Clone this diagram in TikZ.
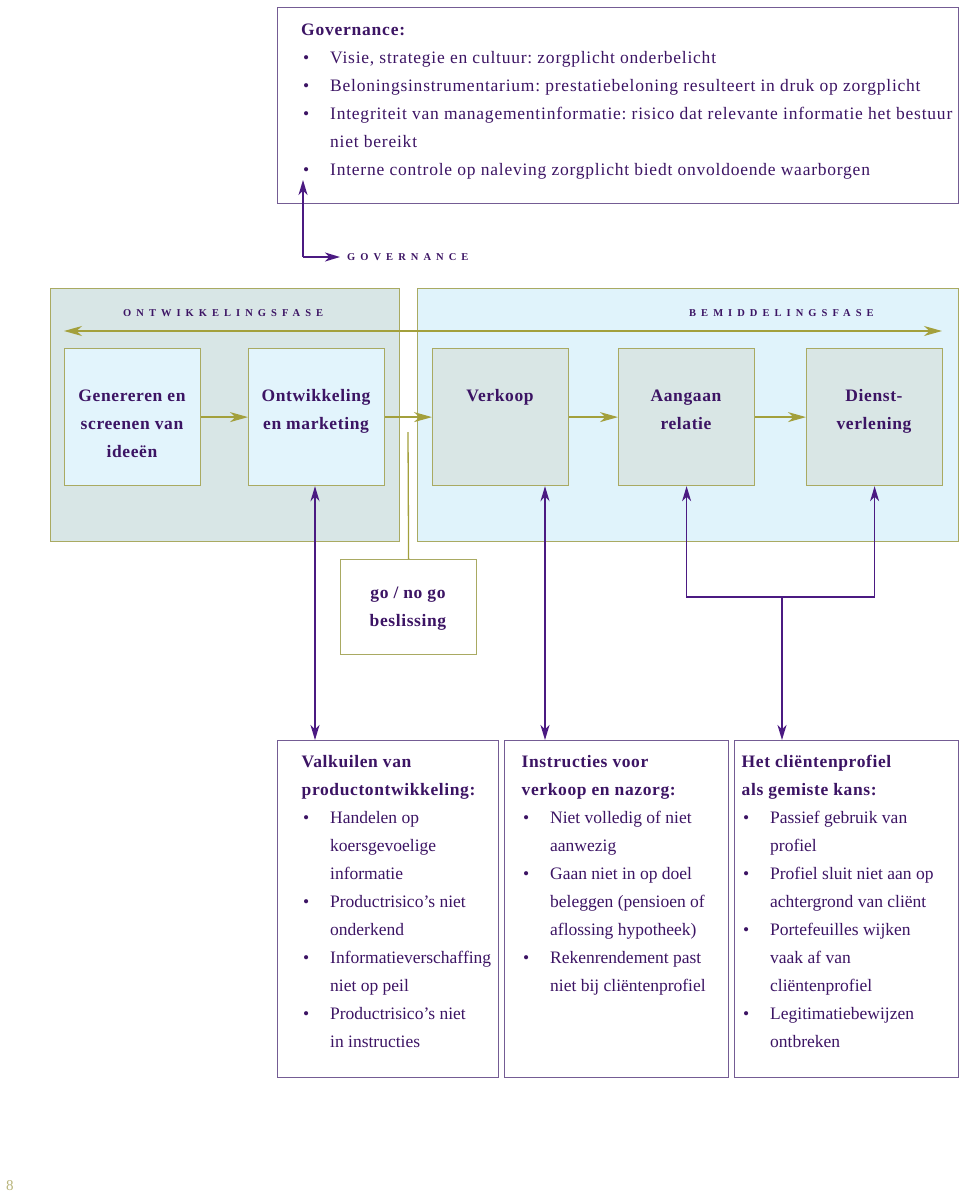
\documentclass[tikz,border=0pt]{standalone}
\usepackage{fontspec}
\setmainfont{Liberation Serif}
\newfontfamily\spacedfont[LetterSpace=48]{Liberation Serif}
\newfontfamily\trackfont[LetterSpace=3.5]{Liberation Serif}
\newfontfamily\govfont[LetterSpace=4.4]{Liberation Serif}
\frenchspacing
\usetikzlibrary{arrows.meta}
\definecolor{txt}{HTML}{3C1464}
\definecolor{parr}{HTML}{4B1A82}
\definecolor{pbord}{HTML}{745C94}
\definecolor{oarr}{HTML}{A3A03C}
\definecolor{obord}{HTML}{A9AA62}
\definecolor{panelL}{HTML}{D8E6E6}
\definecolor{panelR}{HTML}{E0F3FB}
\definecolor{boxB}{HTML}{E2F4FC}
\definecolor{boxG}{HTML}{D9E6E5}
\definecolor{pagenum}{HTML}{B8B47A}
\newcommand\bl{\makebox[27pt][l]{\textbullet}}
\newcommand\ct{\hspace*{27pt}}
\newcommand\ttl[1]{{\trackfont\bfseries #1}}
\tikzset{
  panel/.style={draw=obord, line width=1.2pt, anchor=north west, inner sep=0pt},
  stage/.style={draw=obord, line width=1.2pt, anchor=north west, minimum width=136pt, minimum height=137pt, inner sep=0pt},
  listbox/.style={draw=pbord, line width=1.3pt, anchor=north west, inner sep=0pt},
  body/.style={text=txt, inner sep=0pt, anchor=base west, font=\fontsize{17.5}{28}\selectfont},
  stagetext/.style={text=txt, inner sep=0pt, anchor=base, font=\trackfont\bfseries\fontsize{17.5}{28}\selectfont},
  phase/.style={text=txt, inner sep=0pt, anchor=base west, font=\spacedfont\bfseries\fontsize{10.5}{12}\selectfont},
  oline/.style={draw=oarr, line width=1.3pt},
  otip/.style={-{Stealth[length=18pt,width=10pt,inset=5.5pt]}},
  otips/.style={{Stealth[length=18pt,width=10pt,inset=5.5pt]}-{Stealth[length=18pt,width=10pt,inset=5.5pt]}},
  pline/.style={draw=parr, line width=1.4pt},
  ptip/.style={-{Stealth[length=15pt,width=9pt,inset=4.5pt]}},
  ptips/.style={{Stealth[length=15pt,width=9pt,inset=4.5pt]}-{Stealth[length=15pt,width=9pt,inset=4.5pt]}},
}
\begin{document}
\begin{tikzpicture}[x=1pt,y=-1pt]
\useasboundingbox (0,0) rectangle (960,1192);

% governance box
\node[listbox, minimum width=681pt, minimum height=196pt] (govbox) at (277,7) {};
\node[body, font=\govfont\fontsize{17.5}{28}\selectfont] (govtext) at (303,35) {\begin{tabular}[t]{@{}l@{}}
\hspace*{-2pt}\textbf{Governance:}\\
\bl Visie, strategie en cultuur: zorgplicht onderbelicht\\
\bl Beloningsinstrumentarium: prestatiebeloning resulteert in druk op zorgplicht\\
\bl Integriteit van managementinformatie: risico dat relevante informatie het bestuur\\
\ct niet bereikt\\
\bl Interne controle op naleving zorgplicht biedt onvoldoende waarborgen
\end{tabular}};

% governance label and arrow
\node[phase] (govlabel) at (347,260) {GOVERNANCE};
\coordinate (gtip) at (303,180);
\coordinate (gcorner) at (303,257);
\draw[pline, ptip] (gcorner) -- (gtip);
\draw[pline, ptip] (gcorner) -- ([xshift=-7pt]gcorner -| govlabel.west);

% phase panels
\node[panel, fill=panelL, minimum width=349pt, minimum height=253pt] (pL) at (50,288) {};
\node[panel, fill=panelR, minimum width=541pt, minimum height=253pt] (pR) at (417,288) {};
\node[phase] (ontw) at (123,316) {ONTWIKKELINGSFASE};
\node[phase] (bemid) at (689,316) {BEMIDDELINGSFASE};
\coordinate (dl) at (64,331);
\coordinate (dr) at (942,331);
\draw[oline, otips] (dl) -- (dr);

% stages
\node[stage, fill=boxB] (b1) at (64,348) {};
\node[stage, fill=boxB] (b2) at (248,348) {};
\node[stage, fill=boxG] (b3) at (432,348) {};
\node[stage, fill=boxG] (b4) at (618,348) {};
\node[stage, fill=boxG] (b5) at (806,348) {};
\node[stagetext] (t1) at (132,401) {\begin{tabular}[t]{@{}c@{}}Genereren en\\screenen van\\ideeën\end{tabular}};
\node[stagetext] (t2) at (316,401) {\begin{tabular}[t]{@{}c@{}}Ontwikkeling\\en marketing\end{tabular}};
\node[stagetext] (t3) at (500,401) {\begin{tabular}[t]{@{}c@{}}Verkoop\end{tabular}};
\node[stagetext] (t4) at (686,401) {\begin{tabular}[t]{@{}c@{}}Aangaan\\relatie\end{tabular}};
\node[stagetext] (t5) at (874,401) {\begin{tabular}[t]{@{}c@{}}Dienst-\\verlening\end{tabular}};
\draw[oline, otip] (b1.east) -- (b2.west);
\draw[oline, otip] (b2.east) -- (b3.west);
\draw[oline, otip] (b3.east) -- (b4.west);
\draw[oline, otip] (b4.east) -- (b5.west);

% go / no go
\node[stage, fill=white, minimum height=95pt] (go) at (340,559) {};
\node[stagetext] (gotext) at (408,598) {\begin{tabular}[t]{@{}c@{}}go / no go\\beslissing\end{tabular}};
\coordinate (gotop) at (408,432);
\draw[oline] (gotop) -- (go.north);

% bottom boxes
\node[listbox, minimum width=221pt, minimum height=337pt] (vA) at (277,740) {};
\node[listbox, minimum width=224pt, minimum height=337pt] (vB) at (504,740) {};
\node[listbox, minimum width=224pt, minimum height=337pt] (vC) at (734,740) {};
\node[body] (tA) at (303,767) {\begin{tabular}[t]{@{}l@{}}
\hspace*{-1.5pt}\ttl{Valkuilen van}\\
\hspace*{-1.5pt}\ttl{productontwikkeling:}\\
\bl Handelen op\\
\ct koersgevoelige\\
\ct informatie\\
\bl Productrisico’s niet\\
\ct onderkend\\
\bl Informatieverschaffing\\
\ct niet op peil\\
\bl Productrisico’s niet\\
\ct in instructies
\end{tabular}};
\node[body] (tB) at (523,767) {\begin{tabular}[t]{@{}l@{}}
\hspace*{-1.5pt}\ttl{Instructies voor}\\
\hspace*{-1.5pt}\ttl{verkoop en nazorg:}\\
\bl Niet volledig of niet\\
\ct aanwezig\\
\bl Gaan niet in op doel\\
\ct beleggen (pensioen of\\
\ct aflossing hypotheek)\\
\bl Rekenrendement past\\
\ct niet bij cliëntenprofiel
\end{tabular}};
\node[body] (tC) at (743,767) {\begin{tabular}[t]{@{}l@{}}
\hspace*{-1.5pt}\ttl{Het cliëntenprofiel}\\
\hspace*{-1.5pt}\ttl{als gemiste kans:}\\
\bl Passief gebruik van\\
\ct profiel\\
\bl Profiel sluit niet aan op\\
\ct achtergrond van cliënt\\
\bl Portefeuilles wijken\\
\ct vaak af van\\
\ct cliëntenprofiel\\
\bl Legitimatiebewijzen\\
\ct ontbreken
\end{tabular}};

% purple connectors
\draw[pline, ptips] (b2.south -| 315,0) -- (vA.north -| 315,0);
\draw[pline, ptips] (b3.south -| 545,0) -- (vB.north -| 545,0);
\coordinate (fork) at (782,597);
\draw[pline, ptip] (fork) -| (b4.south);
\draw[pline, ptip] (fork) -| (b5.south);
\draw[pline, ptip] (fork) -- (fork |- vC.north);

% page number
\node[text=pagenum, inner sep=0pt, anchor=base west, font=\fontsize{15}{16}\selectfont] (pnum) at (6,1190) {8};
\end{tikzpicture}
\end{document}
